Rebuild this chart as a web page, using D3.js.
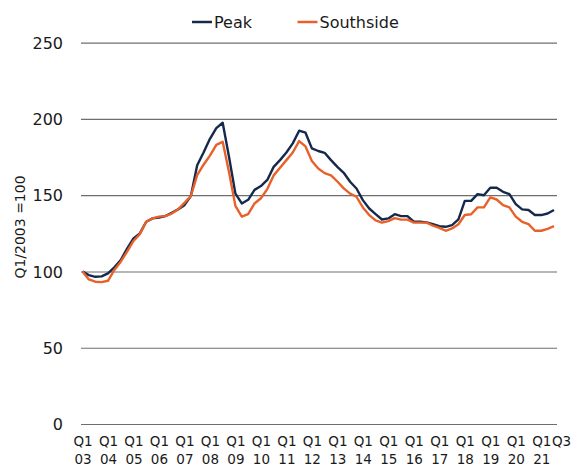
<!DOCTYPE html>
<html>
<head>
<meta charset="utf-8">
<script src="https://cdn.jsdelivr.net/npm/d3@7"></script>
<style>
  body { margin: 0; background: #fff; }
  text { font-family: "DejaVu Sans", sans-serif; fill: #1a1a1a; }
</style>
</head>
<body>
<div id="chart"></div>
<script>
// quarters Q1 2003 .. Q3 2021
const quarters = d3.range(2003, 2022)
  .flatMap(y => ["Q1", "Q2", "Q3", "Q4"].map(q => q + " " + String(y).slice(2)))
  .slice(0, 75)

const peak = [
  100, 97.6, 96.5, 96.8, 98.7, 102.7, 107.5, 115, 121.7, 125,
  132.6, 134.8, 135.4, 136.3, 138.5, 140.7, 143.5, 149.4, 169.7, 178,
  187, 194, 197.5, 175, 151, 144.6, 147, 153.5, 156, 160,
  168.6, 173, 178, 184, 192.3, 191, 180.7, 179, 177.8, 173,
  168.6, 164.7, 158.8, 154.4, 146.8, 141.3, 137.6, 134.1, 134.8, 137.6,
  136.3, 136.3, 132.6, 132.6, 132.2, 131, 129.7, 129.3, 130.4, 134.1,
  146.3, 146.3, 150.7, 150, 154.9, 154.9, 152.2, 150.7, 144.2, 140.7,
  140.3, 137, 137, 138, 140.3
]

const southside = [
  100, 94.8, 93.3, 93, 93.9, 101, 106.4, 113, 120, 124.5,
  132.6, 134.8, 136, 136.3, 138, 140.7, 145, 149.4, 163.2, 170,
  176, 183, 185, 165, 143, 136, 137.6, 144.6, 148, 154,
  163, 168, 173, 178, 185.5, 182, 172.5, 167.5, 164.5, 163,
  159, 154.5, 151, 149, 142, 137, 133.5, 132, 133, 135,
  134, 134, 132, 132, 132, 130, 128.6, 126.7, 128.2, 131,
  137, 137.5, 142, 142, 148.6, 147.2, 143.5, 142, 136, 132.6,
  131, 126.7, 126.7, 128, 129.7
]

const series = [
  {name: "Peak", values: peak, color: "#15294d"},
  {name: "Southside", values: southside, color: "#e8612a"}
]

const yTicks = [0, 50, 100, 150, 200, 250]
const xTicks = [
  "Q1 03", "Q1 04", "Q1 05", "Q1 06", "Q1 07", "Q1 08", "Q1 09", "Q1 10", "Q1 11", "Q1 12",
  "Q1 13", "Q1 14", "Q1 15", "Q1 16", "Q1 17", "Q1 18", "Q1 19", "Q1 20", "Q1 21", "Q3 21"
]
const yTitle = "Q1/2003 =100"

const width = 576, height = 469
const svg = d3.select("#chart").append("svg")
  .attr("width", width)
  .attr("height", height)

const gridLeft = 81, gridRight = 557

const x = d3.scalePoint().domain(quarters).range([82.5, 554])
const y = d3.scaleLinear().domain([0, 250]).range([424, 42.7])

// eje y con lineas de rejilla
const yAxis = svg.append("g")
  .attr("transform", `translate(${gridLeft},0)`)
  .call(d3.axisLeft(y).tickValues(yTicks).tickSize(-(gridRight - gridLeft)).tickPadding(18))
yAxis.select(".domain").remove()
yAxis.selectAll(".tick line").attr("stroke", "#6e6e6e").attr("stroke-width", 1.2)
yAxis.selectAll(".tick text").style("font-size", "16px").attr("dy", "0.36em")

// eje x (etiquetas en dos lineas)
const xAxis = svg.append("g")
  .attr("transform", "translate(0,424)")
  .call(d3.axisBottom(x).tickValues(xTicks).tickSize(0).tickFormat(""))
xAxis.select(".domain").remove()
xAxis.selectAll(".tick").each(function(d) {
  const parts = d.split(" ")
  const t = d3.select(this).append("text")
    .attr("text-anchor", "middle")
    .style("font-size", "13.5px")
    .attr("transform", d === "Q3 21" ? "translate(7,0)" : null)
  t.append("tspan").attr("x", 0).attr("y", 22).text(parts[0])
  if (parts[0] === "Q1") t.append("tspan").attr("x", 0).attr("y", 40).text(parts[1])
})

svg.append("text")
  .attr("transform", "translate(25,227) rotate(-90)")
  .attr("text-anchor", "middle")
  .style("font-size", "14px")
  .text(yTitle)

const line = d3.line()
  .x((d, i) => x(quarters[i]))
  .y(d => y(d))

svg.selectAll(".serie")
  .data(series)
  .join("path")
  .attr("class", "serie")
  .attr("fill", "none")
  .attr("stroke", d => d.color)
  .attr("stroke-width", 2.4)
  .attr("stroke-linejoin", "round")
  .attr("d", d => line(d.values))

// leyenda
const legendX = [192, 297.5]
const legend = svg.selectAll(".leg")
  .data(series)
  .join("g")
  .attr("class", "leg")
  .attr("transform", (d, i) => `translate(${legendX[i]},22)`)
legend.append("line")
  .attr("x1", 0).attr("x2", 20)
  .attr("stroke", d => d.color)
  .attr("stroke-width", 2.5)
legend.append("text")
  .attr("x", 22)
  .attr("dy", "0.36em")
  .style("font-size", "16px")
  .text(d => d.name)
</script>
</body>
</html>
